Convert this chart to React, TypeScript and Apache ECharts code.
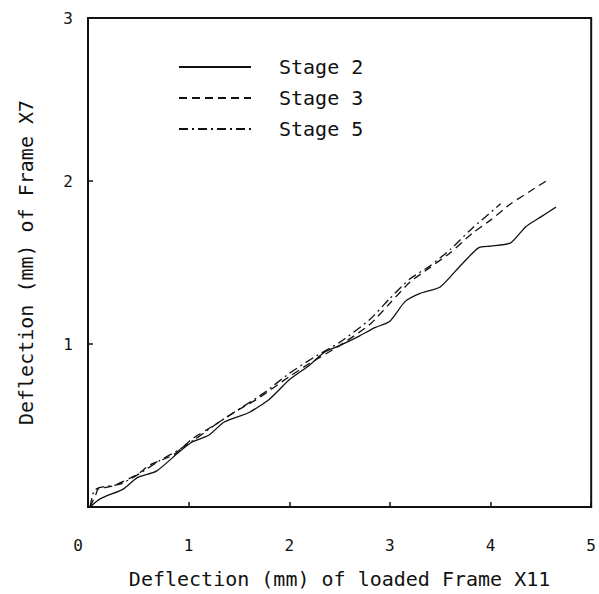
import React, { useEffect, useRef } from "react";
import * as echarts from "echarts";

const xTicks = [0, 1, 2, 3, 4, 5];
const yTicks = [0, 1, 2, 3];

const stage2: [number, number][] = [
  [0.02, 0], [0.12, 0.05], [0.35, 0.11], [0.49, 0.18], [0.68, 0.22], [0.91, 0.34],
  [1.04, 0.4], [1.2, 0.44], [1.35, 0.52], [1.6, 0.58], [1.8, 0.66], [2.0, 0.78],
  [2.2, 0.87], [2.35, 0.95], [2.5, 0.99], [2.7, 1.05], [2.85, 1.1], [3.0, 1.14],
  [3.15, 1.26], [3.3, 1.31], [3.5, 1.35], [3.7, 1.48], [3.88, 1.59], [4.0, 1.6],
  [4.2, 1.62], [4.35, 1.72], [4.5, 1.78], [4.65, 1.84],
];

const stage3: [number, number][] = [
  [0.02, 0], [0.08, 0.08], [0.1, 0.11], [0.25, 0.13], [0.49, 0.2], [0.62, 0.26],
  [0.85, 0.32], [1.04, 0.42], [1.25, 0.5], [1.45, 0.58], [1.7, 0.67], [2.0, 0.8],
  [2.2, 0.88], [2.5, 0.99], [2.8, 1.12], [3.0, 1.25], [3.2, 1.38], [3.4, 1.47],
  [3.6, 1.56], [3.82, 1.68], [4.0, 1.76], [4.2, 1.86], [4.4, 1.94], [4.58, 2.01],
];

const stage5: [number, number][] = [
  [0.02, 0], [0.06, 0.1], [0.12, 0.12], [0.32, 0.14], [0.5, 0.2], [0.7, 0.28],
  [0.9, 0.35], [1.05, 0.41], [1.3, 0.52], [1.5, 0.6], [1.75, 0.7], [2.0, 0.82],
  [2.25, 0.92], [2.5, 1.01], [2.8, 1.15], [3.0, 1.28], [3.2, 1.4], [3.4, 1.48],
  [3.6, 1.58], [3.8, 1.7], [4.1, 1.86],
];

const seriesNames = ["Stage 2", "Stage 3", "Stage 5"];

const FONT = "DejaVu Sans Mono";
const INK = "#111";

export default function App() {
  const ref = useRef<HTMLDivElement>(null);
  useEffect(() => {
    if (!ref.current) return;
    const chart = echarts.init(ref.current, undefined, { renderer: "svg" });
    const lineBase = { color: INK, width: 1.3 };
    chart.setOption({
      animation: false,
      backgroundColor: "#fff",
      grid: {
        left: 88,
        right: 6,
        top: 18,
        bottom: 86,
        show: true,
        borderColor: INK,
        borderWidth: 2,
      },
      legend: {
        orient: "vertical",
        left: 178,
        top: 57,
        padding: 0,
        itemWidth: 72,
        itemHeight: 14,
        itemGap: 11,
        data: seriesNames,
        itemStyle: { opacity: 0 },
        textStyle: {
          fontFamily: FONT,
          fontSize: 20,
          color: INK,
          padding: [0, 0, 0, 23],
        },
      },
      xAxis: {
        type: "value",
        min: xTicks[0],
        max: xTicks[xTicks.length - 1],
        interval: 1,
        name: "Deflection (mm) of loaded Frame X11",
        nameLocation: "middle",
        nameGap: 62,
        nameTextStyle: { fontFamily: FONT, fontSize: 20, color: INK },
        axisLine: { show: true, lineStyle: { color: INK, width: 2 } },
        axisTick: { show: true, inside: true, length: 5, lineStyle: { color: INK, width: 1.5 } },
        axisLabel: {
          fontFamily: FONT,
          fontSize: 16,
          color: INK,
          margin: 30,
          formatter: (v: number) => (v === 0 ? "{z|0}" : String(v)),
          rich: {
            z: { fontFamily: FONT, fontSize: 16, color: INK, padding: [0, 20, 0, 0] },
          },
        },
        splitLine: { show: false },
      },
      yAxis: {
        type: "value",
        min: yTicks[0],
        max: yTicks[yTicks.length - 1],
        interval: 1,
        name: "Deflection (mm) of Frame X7",
        nameLocation: "middle",
        nameGap: 52,
        nameTextStyle: { fontFamily: FONT, fontSize: 20, color: INK },
        axisLine: { show: true, lineStyle: { color: INK, width: 2 } },
        axisTick: { show: true, inside: true, length: 5, lineStyle: { color: INK, width: 1.5 } },
        axisLabel: {
          fontFamily: FONT,
          fontSize: 16,
          color: INK,
          margin: 15,
          showMinLabel: false,
        },
        splitLine: { show: false },
      },
      series: [
        {
          name: seriesNames[0],
          type: "line",
          data: stage2,
          symbol: "none",
          smooth: 0.2,
          itemStyle: { color: INK },
          lineStyle: { ...lineBase, type: "solid" },
        },
        {
          name: seriesNames[1],
          type: "line",
          data: stage3,
          symbol: "none",
          smooth: 0.2,
          itemStyle: { color: INK },
          lineStyle: { ...lineBase, type: [8, 5] },
        },
        {
          name: seriesNames[2],
          type: "line",
          data: stage5,
          symbol: "none",
          smooth: 0.2,
          itemStyle: { color: INK },
          lineStyle: { ...lineBase, type: [9, 4, 2, 4] },
        },
      ],
    });
    return () => chart.dispose();
  }, []);
  return (
    <div
      ref={ref}
      style={{ position: "fixed", left: 0, top: 0, width: 599, height: 594, background: "#fff" }}
    />
  );
}
